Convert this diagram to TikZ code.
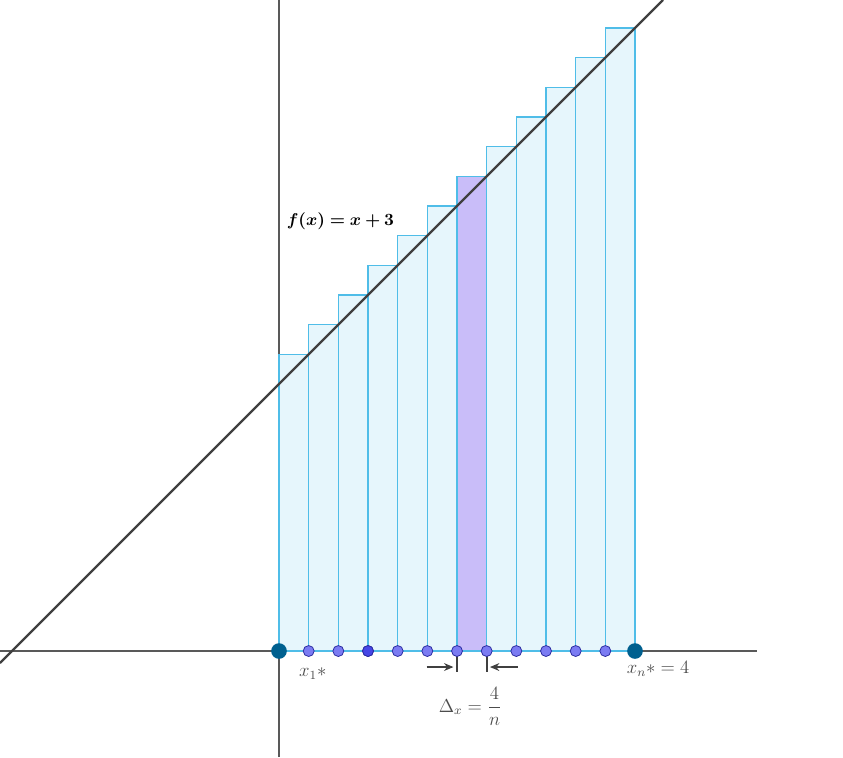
\documentclass[tikz,border=0pt]{standalone}
\usepackage{bm}
\usetikzlibrary{arrows.meta}
\definecolor{barfill}{HTML}{E6F6FC}
\definecolor{baredge}{HTML}{4FBDE8}
\definecolor{pickfill}{HTML}{C9BDF9}
\definecolor{dotfill}{HTML}{7B7BF2}
\definecolor{dotdark}{HTML}{4646E6}
\definecolor{dotedge}{HTML}{2B2BA0}
\definecolor{enddot}{HTML}{00608F}
\tikzset{
  bar/.style={draw=baredge,fill=barfill,line width=0.8pt},
  pickbar/.style={bar,fill=pickfill},
  gridpt/.style={draw=dotedge,fill=dotfill,circle,inner sep=0pt,minimum size=7pt,line width=0.5pt},
  endpt/.style={fill=enddot,circle,inner sep=0pt,minimum size=10pt},
  axis/.style={black!65,line width=0.7pt},
  lbl/.style={text=black!70,font=\large},
  gap/.style={black!75,line width=1pt,-{Stealth[length=6pt,width=5pt]}}
}
\begin{document}
\begin{tikzpicture}[x=2cm,y=2cm]
  \useasboundingbox (-3.135,-1.191) rectangle (6.337,7.315);
  % axes
  \draw[axis] (-3.135,0) -- (5.371,0);
  \draw[axis] (0,-1.191) -- (0,7.315);
  % right endpoint bars
  \foreach \k in {1,...,12}
    \draw[bar] ({(\k-1)/3},0) rectangle ({\k/3},{\k/3+3});
  \draw[pickbar] (2,0) rectangle ({7/3},{7/3+3});
  % graph of f
  \draw[black!75,line width=1.5pt] (-3.135,-0.135) -- (4.315,7.315);
  \node[font=\fontsize{11}{13}\selectfont] (fname) at (0.69,4.83) {$\bm{f(x)=x+3}$};
  % width marks
  \draw[black!75,line width=1.1pt] (2,0) -- (2,-0.24);
  \draw[black!75,line width=1.1pt] ({7/3},0) -- ({7/3},-0.24);
  \coordinate (wl) at (1.66,-0.18);
  \coordinate (wr) at (2.68,-0.18);
  \draw[gap] (wl) -- (1.96,-0.18);
  \draw[gap] (wr) -- (2.37,-0.18);
  % partition points
  \foreach \k in {1,...,11}
    \node[gridpt] (p\k) at ({\k/3},0) {};
  \node[gridpt,fill=dotdark] at (p3) {};
  \node[endpt] (p0) at (0,0) {};
  \node[endpt] (p12) at (4,0) {};
  % labels
  \node[lbl] (first) at (0.38,-0.25) {$x_1{*}$};
  \node[lbl] (last) at (4.26,-0.2) {$x_n{*}=4$};
  \node[lbl] (width) at (2.15,-0.62) {$\Delta_x=\displaystyle\frac{4}{n}$};
\end{tikzpicture}
\end{document}
